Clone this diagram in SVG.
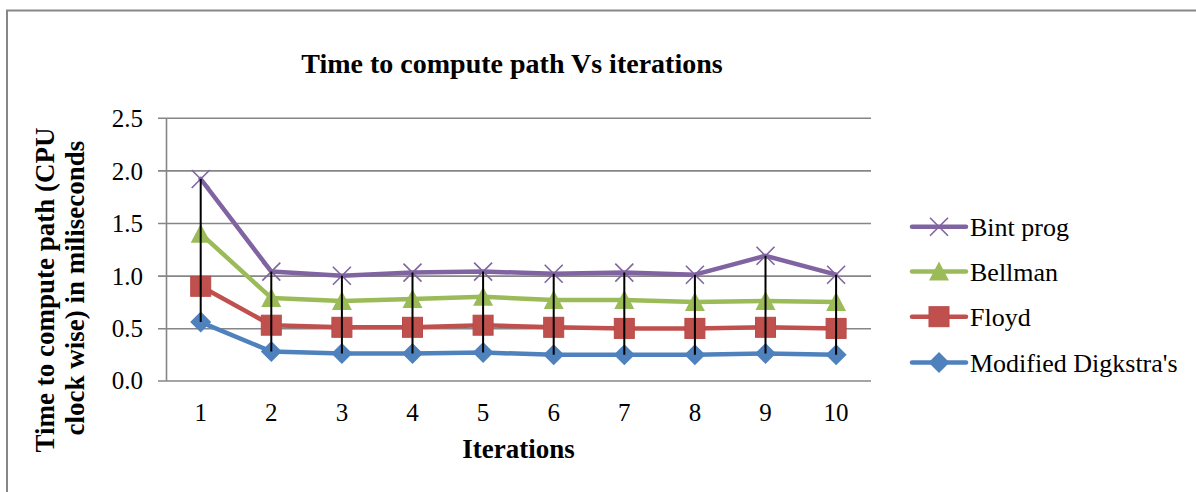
<svg xmlns="http://www.w3.org/2000/svg" width="1196" height="492" viewBox="0 0 1196 492">
<style>
text{font-family:"Liberation Serif","Times New Roman",serif;fill:#000}
.title{font-size:28px;font-weight:bold;text-anchor:middle}
.axt{font-size:27px;font-weight:bold;text-anchor:middle}
.tick{font-size:25px}
.yt{text-anchor:end}
.xt{text-anchor:middle}
.leg{font-size:26px}
.grid{stroke:#868686;stroke-width:1.6;fill:none}
.ser{fill:none;stroke-width:4.5;stroke-linejoin:round;stroke-linecap:round}
.hl{stroke:#000;stroke-width:2}
</style>
<defs>
<marker id="mX" markerUnits="userSpaceOnUse" markerWidth="30" markerHeight="30" refX="0" refY="0" overflow="visible"><path d="M-9,-9L9,9M-9,9L9,-9" stroke="#8064A2" stroke-width="1.6" fill="none"/></marker>
<marker id="mT" markerUnits="userSpaceOnUse" markerWidth="30" markerHeight="30" refX="0" refY="0" overflow="visible"><polygon points="0,-10 10,9 -10,9" fill="#9BBB59"/></marker>
<marker id="mS" markerUnits="userSpaceOnUse" markerWidth="30" markerHeight="30" refX="0" refY="0" overflow="visible"><rect x="-10" y="-10" width="20" height="20" fill="#C0504D" stroke="#B84A47" stroke-width="1"/></marker>
<marker id="mD" markerUnits="userSpaceOnUse" markerWidth="30" markerHeight="30" refX="0" refY="0" overflow="visible"><polygon points="0,-10.5 10.5,0 0,10.5 -10.5,0" fill="#4F81BD"/></marker>
</defs>
<rect x="7" y="10.5" width="1200" height="500" fill="none" stroke="#878787" stroke-width="2"/>
<text class="title" x="512" y="73">Time to compute path Vs iterations</text>
<g id="axes">
<path class="grid" d="M158,118.3H871M158,170.9H871M158,223.5H871M158,276.1H871M158,328.7H871M158,381H871M166.5,118.3V381"/>
<text class="tick yt" x="143" y="127">2.5</text>
<text class="tick yt" x="143" y="180">2.0</text>
<text class="tick yt" x="143" y="232">1.5</text>
<text class="tick yt" x="143" y="285">1.0</text>
<text class="tick yt" x="143" y="337">0.5</text>
<text class="tick yt" x="143" y="389">0.0</text>
<text class="tick xt" x="200.7" y="421">1</text>
<text class="tick xt" x="271.3" y="421">2</text>
<text class="tick xt" x="341.9" y="421">3</text>
<text class="tick xt" x="412.5" y="421">4</text>
<text class="tick xt" x="483.1" y="421">5</text>
<text class="tick xt" x="553.7" y="421">6</text>
<text class="tick xt" x="624.3" y="421">7</text>
<text class="tick xt" x="694.9" y="421">8</text>
<text class="tick xt" x="765.5" y="421">9</text>
<text class="tick xt" x="836.1" y="421">10</text>
<text class="axt" x="518.5" y="458">Iterations</text>
<text class="axt" transform="translate(54,290) rotate(-90)">Time to compute path (CPU</text>
<text class="axt" transform="translate(84,288) rotate(-90)">clock wise) in miliseconds</text>
</g>
<g id="series-dijkstra">
<polyline class="ser" stroke="#4F81BD" marker-start="url(#mD)" marker-mid="url(#mD)" marker-end="url(#mD)" points="200.7,322.1 271.3,351.5 341.9,353.6 412.5,353.6 483.1,352.6 553.7,354.7 624.3,354.7 694.9,354.7 765.5,353.6 836.1,354.7"/>
</g>
<g id="series-floyd">
<polyline class="ser" stroke="#C0504D" marker-start="url(#mS)" marker-mid="url(#mS)" marker-end="url(#mS)" points="200.7,286.3 271.3,325.2 341.9,327.3 412.5,327.3 483.1,325.2 553.7,327.3 624.3,328.4 694.9,328.4 765.5,327.3 836.1,328.4"/>
</g>
<g id="series-bellman">
<polyline class="ser" stroke="#9BBB59" marker-start="url(#mT)" marker-mid="url(#mT)" marker-end="url(#mT)" points="200.7,233.7 271.3,297.9 341.9,301 412.5,298.9 483.1,296.8 553.7,300 624.3,300 694.9,302.1 765.5,301 836.1,302.1"/>
</g>
<g id="series-bint">
<polyline class="ser" stroke="#8064A2" marker-start="url(#mX)" marker-mid="url(#mX)" marker-end="url(#mX)" points="200.7,179 271.3,271.6 341.9,275.8 412.5,272.6 483.1,271.6 553.7,273.7 624.3,272.6 694.9,274.7 765.5,255.8 836.1,274.7"/>
</g>
<g id="connectors">
<path class="hl" d="M200.7,179V322.1M271.3,271.6V351.5M341.9,275.8V353.6M412.5,272.6V353.6M483.1,271.6V352.6M553.7,273.7V354.7M624.3,272.6V354.7M694.9,274.7V354.7M765.5,255.8V353.6M836.1,274.7V354.7"/>
</g>
<g id="legend-bint">
<polyline class="ser" stroke="#8064A2" marker-mid="url(#mX)" points="912,226.7 939,226.7 966,226.7"/>
<text class="leg" x="970" y="236">Bint prog</text>
</g>
<g id="legend-bellman">
<polyline class="ser" stroke="#9BBB59" marker-mid="url(#mT)" points="912,271.5 939,271.5 966,271.5"/>
<text class="leg" x="970" y="281">Bellman</text>
</g>
<g id="legend-floyd">
<polyline class="ser" stroke="#C0504D" marker-mid="url(#mS)" points="912,316.7 939,316.7 966,316.7"/>
<text class="leg" x="970" y="326">Floyd</text>
</g>
<g id="legend-dijkstra">
<polyline class="ser" stroke="#4F81BD" marker-mid="url(#mD)" points="912,362.5 939,362.5 966,362.5"/>
<text class="leg" x="970" y="372">Modified Digkstra's</text>
</g>
</svg>
